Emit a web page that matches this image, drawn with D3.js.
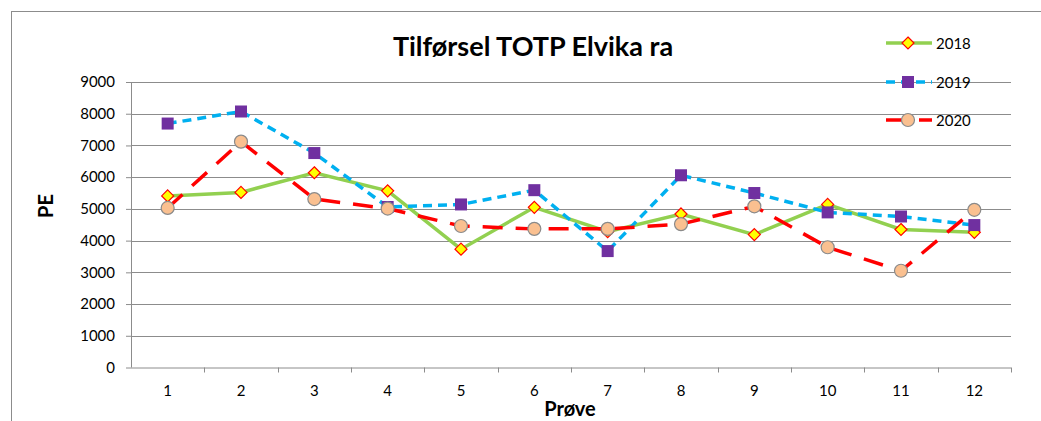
<!DOCTYPE html>
<html>
<head>
<meta charset="utf-8">
<script src="https://cdn.jsdelivr.net/npm/d3@7"></script>
<style>
  body { margin: 0; background: #fff; }
  text { font-family: Lato, "Liberation Sans", sans-serif; }
</style>
</head>
<body>
<div id="chart"></div>
<script>
var samples = [1, 2, 3, 4, 5, 6, 7, 8, 9, 10, 11, 12];
var years = ["2018", "2019", "2020"];
var values2018 = [5410, 5520, 6140, 5570, 3730, 5050, 4280, 4840, 4190, 5140, 4350, 4260];
var values2019 = [7690, 8070, 6760, 5060, 5140, 5590, 3670, 6060, 5500, 4890, 4760, 4490];
var values2020 = [5030, 7120, 5310, 5010, 4460, 4370, 4370, 4520, 5080, 3790, 3050, 4970];
var yTicks = [0, 1000, 2000, 3000, 4000, 5000, 6000, 7000, 8000, 9000];

var svgWidth = 1041;
var svgHeight = 421;
var margin = { top: 82, right: 30, bottom: 53, left: 131 };
var width = 1011 - margin.left;
var height = 367.5 - margin.top;

var svg = d3.select("#chart")
  .append("svg")
  .attr("width", svgWidth)
  .attr("height", svgHeight);

// outer chart frame (only top and left edges show in the picture)
svg.append("rect")
  .attr("x", 11.5)
  .attr("y", 11.5)
  .attr("width", 1100)
  .attr("height", 500)
  .attr("fill", "none")
  .attr("stroke", "#8c8c8c")
  .attr("stroke-width", 1);

var chartGroup = svg.append("g")
  .attr("transform", `translate(${margin.left}, ${margin.top})`);

var xScale = d3.scaleBand()
  .domain(samples)
  .range([0, width]);

var yScale = d3.scaleLinear()
  .domain([0, 9000])
  .range([height, 0]);

// gridlines
chartGroup.append("g")
  .selectAll("line")
  .data(yTicks.slice(1))
  .enter()
  .append("line")
  .attr("x1", 0)
  .attr("x2", width)
  .attr("y1", d => Math.round(yScale(d)) + 0.5)
  .attr("y2", d => Math.round(yScale(d)) + 0.5)
  .attr("stroke", "#8c8c8c")
  .attr("stroke-width", 1);

// y axis
var leftAxis = d3.axisLeft(yScale)
  .tickValues(yTicks)
  .tickSize(5)
  .tickPadding(11)
  .tickFormat(d3.format("d"));

var yAxis = chartGroup.append("g").call(leftAxis);
yAxis.attr("font-family", null).attr("font-size", null);
yAxis.select(".domain").attr("stroke", "#8c8c8c").attr("d", `M0.5,0V${height}`);
yAxis.selectAll(".tick line").attr("stroke", "#8c8c8c");
yAxis.selectAll("text").style("font-size", "15px").attr("fill", "#000");

// x axis with ticks at band edges
var bottomAxis = d3.axisBottom(xScale).tickSize(0).tickPadding(18);
var xAxis = chartGroup.append("g")
  .attr("transform", `translate(0, ${height})`)
  .call(bottomAxis);
xAxis.attr("font-family", null).attr("font-size", null);
xAxis.select(".domain").attr("stroke", "#8c8c8c").attr("d", `M0,0.5H${width}`);
xAxis.selectAll("text").style("font-size", "15px").attr("fill", "#000");

chartGroup.append("g")
  .selectAll("line")
  .data(samples)
  .enter()
  .append("line")
  .attr("x1", d => Math.round(xScale(d) + xScale.bandwidth()) + 0.5)
  .attr("x2", d => Math.round(xScale(d) + xScale.bandwidth()) + 0.5)
  .attr("y1", height)
  .attr("y2", height + 5)
  .attr("stroke", "#8c8c8c");

// series styles
var series = [
  { name: "2018", values: values2018, color: "#92d050", dash: null, marker: "diamond" },
  { name: "2019", values: values2019, color: "#00b0f0", dash: "9,6", marker: "square" },
  { name: "2020", values: values2020, color: "#ff0000", dash: "20,13", marker: "circle" }
];

function drawMarker(g, type) {
  if (type === "diamond") {
    g.append("path")
      .attr("d", "M0,-6L6,0L0,6L-6,0Z")
      .attr("fill", "#ffff00")
      .attr("stroke", "#ff0000")
      .attr("stroke-width", 1.2);
  } else if (type === "square") {
    g.append("rect")
      .attr("x", -6).attr("y", -6)
      .attr("width", 12).attr("height", 12)
      .attr("fill", "#7030a0");
  } else {
    g.append("circle")
      .attr("r", 6.5)
      .attr("fill", "#fac090")
      .attr("stroke", "#8a8a8a")
      .attr("stroke-width", 1.2);
  }
}

var line = d3.line()
  .x((d, i) => xScale(samples[i]) + xScale.bandwidth() / 2)
  .y(d => yScale(d));

series.forEach(function(s) {
  chartGroup.append("path")
    .datum(s.values)
    .attr("d", line)
    .attr("fill", "none")
    .attr("stroke", s.color)
    .attr("stroke-width", 3.5)
    .attr("stroke-dasharray", s.dash);

  s.values.forEach(function(v, i) {
    var g = chartGroup.append("g")
      .attr("transform", `translate(${xScale(samples[i]) + xScale.bandwidth() / 2}, ${yScale(v)})`);
    drawMarker(g, s.marker);
  });
});

// legend
var legendY = [43, 82, 120];
series.forEach(function(s, i) {
  var lg = svg.append("g").attr("transform", `translate(886, ${legendY[i]})`);
  lg.append("line")
    .attr("x1", 0).attr("x2", 46)
    .attr("stroke", s.color)
    .attr("stroke-width", 3.5)
    .attr("stroke-dasharray", s.dash);
  var m = lg.append("g").attr("transform", "translate(22, 0)");
  drawMarker(m, s.marker);
  lg.append("text")
    .attr("x", 50)
    .attr("y", 5.5)
    .style("font-size", "15px")
    .text(s.name);
});

// title and axis labels
svg.append("text")
  .attr("x", 533)
  .attr("y", 56)
  .attr("text-anchor", "middle")
  .style("font-size", "27px")
  .attr("font-weight", "bold")
  .text("Tilførsel TOTP Elvika ra");

svg.append("text")
  .attr("transform", "translate(53, 206) rotate(-90)")
  .attr("text-anchor", "middle")
  .style("font-size", "20px")
  .attr("font-weight", "bold")
  .text("PE");

svg.append("text")
  .attr("x", 570)
  .attr("y", 416)
  .attr("text-anchor", "middle")
  .style("font-size", "20px")
  .attr("font-weight", "bold")
  .text("Prøve");
</script>
</body>
</html>
